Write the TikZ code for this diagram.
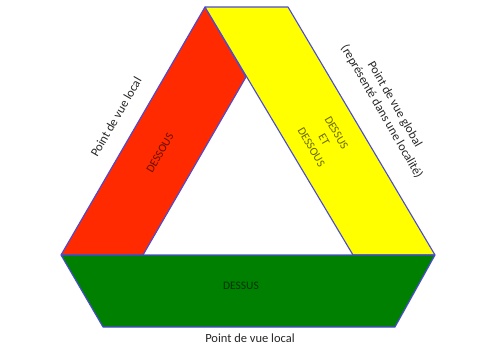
\documentclass[tikz,border=0pt]{standalone}
\usepackage{fontspec}
\setmainfont{Carlito}
\definecolor{edgeblue}{HTML}{4A4AD8}
\definecolor{pred}{HTML}{FF2A00}
\definecolor{pyellow}{HTML}{FFFF00}
\definecolor{pgreen}{HTML}{008000}
\begin{document}
\begin{tikzpicture}[x=1pt,y=-1pt,
  face/.style={draw=edgeblue,line width=1.1pt,line join=round},
  inlabel/.style={text=black,text opacity=0.6,font=\fontsize{11.5}{14.5}\selectfont,align=center,inner sep=0pt},
  outlabel/.style={text=black!85,font=\fontsize{12.5}{15}\selectfont,align=center,inner sep=0pt}]
\useasboundingbox (0,0) rectangle (481,346);
% vertices
\coordinate (T) at (205,7);
\coordinate (TR) at (288,7);
\coordinate (R) at (435,255);
\coordinate (YI) at (353,255);
\coordinate (L) at (61,255);
\coordinate (RI) at (143,255);
\coordinate (RM) at (246,77);
\coordinate (BL) at (103,327);
\coordinate (BR) at (395,327);
% faces
\filldraw[face,fill=pred] (T) -- (L) -- (RI) -- (RM) -- cycle;
\filldraw[face,fill=pyellow] (T) -- (TR) -- (R) -- (YI) -- cycle;
\filldraw[face,fill=pgreen] (L) -- (R) -- (BR) -- (BL) -- cycle;
% labels
\node[inlabel,rotate=60] (dessous) at (160,153) {DESSOUS};
\node[inlabel,rotate=-60] (dd) at (324,140) {DESSUS\\ET\\DESSOUS};
\node[inlabel] (dessus) at (241,286) {DESSUS};
\node[outlabel,rotate=60] (pvl1) at (116,117) {Point de vue local};
\node[outlabel,rotate=-60] (pvg) at (388,108) {Point de vue global\\(représenté dans une localité)};
\node[outlabel] (pvl2) at (250,338) {Point de vue local};
\end{tikzpicture}
\end{document}
